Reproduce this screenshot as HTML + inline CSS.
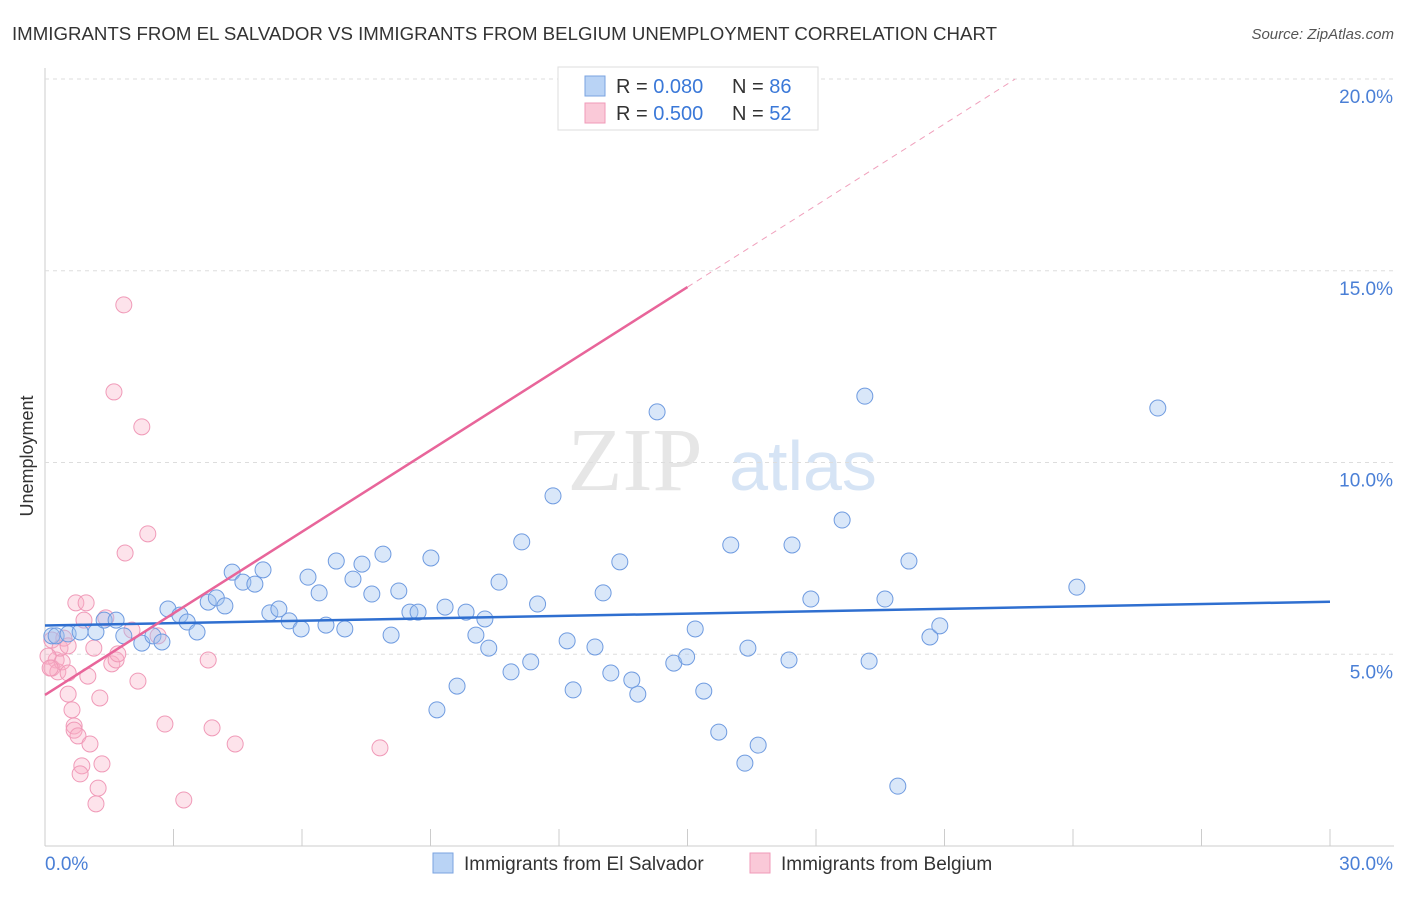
<!DOCTYPE html>
<html><head><meta charset="utf-8"><style>
body{margin:0;background:#fff;font-family:"Liberation Sans",sans-serif;}
</style></head><body>
<svg width="1406" height="892" xmlns="http://www.w3.org/2000/svg" id="svg" font-family="Liberation Sans, sans-serif">
<text x="12" y="40" font-size="18" fill="#333" textLength="985" lengthAdjust="spacingAndGlyphs">IMMIGRANTS FROM EL SALVADOR VS IMMIGRANTS FROM BELGIUM UNEMPLOYMENT CORRELATION CHART</text>
<text x="1394" y="39" font-size="15" fill="#555" font-style="italic" text-anchor="end">Source: ZipAtlas.com</text>
<text x="33" y="456" font-size="18" fill="#333" text-anchor="middle" transform="rotate(-90 33 456)">Unemployment</text>
<g><text x="635" y="490" font-size="90" fill="#e6e6e6" font-family="Liberation Serif, serif" text-anchor="middle">ZIP</text><text x="803" y="490" font-size="70" fill="#d6e4f5" text-anchor="middle">atlas</text></g>
<g id="grid"></g><g id="marks"></g>
<g>
<rect x="558" y="67" width="260" height="63" fill="#fff" stroke="#ddd"/>
<rect x="585" y="76" width="20" height="20" fill="#b9d3f5" stroke="#7aa3e0"/>
<rect x="585" y="103" width="20" height="20" fill="#fac9d8" stroke="#f09ab8"/>
<text x="616" y="93" font-size="20" fill="#333">R = <tspan fill="#3a78d8">0.080</tspan></text>
<text x="732" y="93" font-size="20" fill="#333">N = <tspan fill="#3a78d8">86</tspan></text>
<text x="616" y="120" font-size="20" fill="#333">R = <tspan fill="#3a78d8">0.500</tspan></text>
<text x="732" y="120" font-size="20" fill="#333">N = <tspan fill="#3a78d8">52</tspan></text>
</g>
<g>
<rect x="433" y="853" width="20" height="20" fill="#b9d3f5" stroke="#7aa3e0"/>
<text x="464" y="870" font-size="19" fill="#333">Immigrants from El Salvador</text>
<rect x="750" y="853" width="20" height="20" fill="#fac9d8" stroke="#f09ab8"/>
<text x="781" y="870" font-size="19" fill="#333">Immigrants from Belgium</text>
</g>
</svg>
<script>
const xTicks=[0,3,6,9,12,15,18,21,24,27,30];
const yTicks=[5,10,15,20];
const yTickLabels=["5.0%","10.0%","15.0%","20.0%"];
const blueX=[0.16,0.26,0.54,0.82,1.19,1.38,1.66,1.84,2.26,2.52,2.73,2.87,3.15,3.32,3.55,3.81,4.0,4.2,4.37,4.62,4.9,5.09,5.25,5.46,5.7,5.98,6.14,6.4,6.56,6.8,7.0,7.19,7.4,7.63,7.89,8.08,8.26,8.52,8.71,9.01,9.15,9.34,9.62,9.83,10.06,10.27,10.36,10.6,10.88,11.13,11.34,11.5,11.86,12.19,12.33,12.84,13.03,13.21,13.42,13.7,13.84,14.29,14.68,14.98,15.18,15.38,15.73,16.01,16.34,16.41,16.65,17.37,17.44,17.88,18.61,19.14,19.24,19.61,19.91,20.17,20.66,20.89,24.09,25.98];
const blueY=[5.48,5.48,5.53,5.58,5.58,5.89,5.89,5.48,5.29,5.48,5.32,6.18,6.02,5.84,5.58,6.36,6.47,6.26,7.14,6.88,6.83,7.2,6.08,6.18,5.87,5.66,7.01,6.6,5.76,7.43,5.66,6.96,7.35,6.57,7.61,5.5,6.65,6.1,6.1,7.51,3.55,6.23,4.17,6.1,5.5,5.92,5.16,6.88,4.54,7.93,4.8,6.31,9.13,5.35,4.07,5.19,6.6,4.51,7.41,4.33,3.96,11.32,4.77,4.93,5.66,4.04,2.97,7.85,2.16,5.16,2.63,4.85,7.85,6.44,8.5,11.73,4.82,6.44,1.56,7.43,5.45,5.74,6.75,11.42];
const pinkX=[0.16,0.26,0.16,0.3,0.4,0.35,0.44,0.54,0.54,0.54,0.63,0.68,0.68,0.77,0.72,0.96,0.91,0.86,0.82,1.0,1.05,1.14,1.24,1.19,1.28,1.33,1.42,1.56,1.61,1.66,1.7,1.84,1.87,2.03,2.17,2.26,2.4,2.64,2.8,3.24,3.81,3.9,4.44,7.82,0.07,0.12];
const pinkY=[5.37,4.85,4.64,4.54,4.8,5.16,5.42,5.22,4.51,3.96,3.55,3.13,3.02,2.87,6.34,6.34,5.89,2.09,1.88,4.43,2.66,5.16,1.51,1.1,3.86,2.14,5.95,4.75,11.84,4.85,5.01,14.11,7.64,5.63,4.3,10.93,8.14,5.48,3.18,1.2,4.85,3.08,2.66,2.56,4.95,4.64];
const blueTrend=[5.75,6.37];
const pinkTrend=[3.94,0.709];
const X=v=>45+v/30*1285, Y=v=>846-v*38.35;
const NS="http://www.w3.org/2000/svg";
function mk(t,a,p){const e=document.createElementNS(NS,t);for(const k in a)e.setAttribute(k,a[k]);p.appendChild(e);return e;}
const g=document.getElementById('grid'), m=document.getElementById('marks');
const ax=mk('line',{x1:45,y1:68,x2:45,y2:846,stroke:'#ccc'},g);


const bx=mk('line',{x1:45,y1:846,x2:1394,y2:846,stroke:'#ccc'},g);


yTicks.forEach((t,i)=>{
 const l=mk('line',{x1:45,y1:Y(t),x2:1394,y2:Y(t),stroke:'#ddd','stroke-dasharray':'4,4'},g);
 
 
 const tx=mk('text',{x:1393,y:Y(t)+24,'font-size':19,fill:'#4a7fd6','text-anchor':'end'},g);tx.textContent=yTickLabels[i];
 
 
});
xTicks.forEach(t=>{
 const l=mk('line',{x1:X(t),y1:829,x2:X(t),y2:846,stroke:'#ccc'},g);
 
 
});
[[0,"0.0%",'start',45],[30,"30.0%",'end',1393]].forEach(([v,s,a,x])=>{
 const tx=mk('text',{x:x,y:870,'font-size':19,fill:'#4a7fd6','text-anchor':a},g);tx.textContent=s;
 
 
});
pinkX.forEach((v,i)=>{
 const c=mk('circle',{cx:X(v),cy:Y(pinkY[i]),r:8,fill:'rgba(248,175,198,0.35)',stroke:'#f09ab8','stroke-width':1},m);
 
 
});
blueX.forEach((v,i)=>{
 const c=mk('circle',{cx:X(v),cy:Y(blueY[i]),r:8,fill:'rgba(160,195,240,0.4)',stroke:'#6f9be0','stroke-width':1},m);
 
 
});
const bt=mk('line',{x1:X(0),y1:Y(blueTrend[0]),x2:X(30),y2:Y(blueTrend[1]),stroke:'#2f6fd0','stroke-width':2.5},m);


const pe=(20-pinkTrend[0])/pinkTrend[1];
const pt=mk('line',{x1:X(0),y1:Y(pinkTrend[0]),x2:X(15),y2:Y(pinkTrend[0]+15*pinkTrend[1]),stroke:'#e8659a','stroke-width':2.5},m);


const pd=mk('line',{x1:X(15),y1:Y(pinkTrend[0]+15*pinkTrend[1]),x2:X(pe),y2:Y(20),stroke:'#f0a0bc','stroke-width':1,'stroke-dasharray':'6,5'},m);


</script>
</body></html>
